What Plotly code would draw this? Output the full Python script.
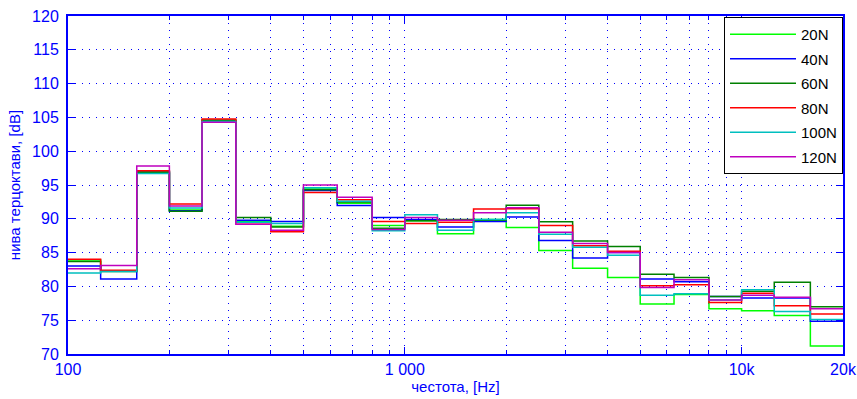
import plotly.graph_objects as go

# third-octave band edges (Hz)
band_edges = [100, 125, 160, 200, 250, 315, 400, 500, 630, 800, 1000, 1250, 1600,
              2000, 2500, 3150, 4000, 5000, 6300, 8000, 10000, 12500, 16000, 20000]

series_names = ["20N", "40N", "60N", "80N", "100N", "120N"]

lvl_20N = [83.9, 82.3, 97.0, 91.3, 104.5, 89.6, 88.9, 94.4, 92.3, 89.0, 89.7, 87.8,
           89.9, 88.7, 85.3, 82.7, 81.3, 77.4, 78.8, 76.7, 76.4, 75.7, 71.2]
lvl_40N = [83.0, 81.1, 96.9, 91.2, 104.4, 89.8, 89.6, 94.2, 91.95, 90.2, 89.9, 88.8,
           89.6, 90.25, 86.8, 84.2, 85.0, 81.1, 80.7, 78.5, 78.3, 78.3, 74.85]
lvl_60N = [83.7, 82.2, 96.9, 91.1, 104.6, 90.2, 88.8, 94.3, 92.5, 88.6, 89.7, 89.9,
           89.8, 92.0, 89.55, 86.7, 85.9, 81.8, 81.3, 78.5, 79.3, 80.6, 77.0]
lvl_80N = [84.0, 82.4, 97.1, 92.2, 104.75, 89.4, 88.1, 93.9, 92.8, 89.6, 89.3, 89.5,
           91.45, 91.5, 89.0, 86.0, 85.2, 80.1, 80.25, 77.6, 79.0, 77.15, 75.9]
lvl_100N = [82.0, 82.2, 96.7, 91.6, 104.4, 89.5, 89.3, 94.6, 92.6, 88.25, 90.6, 88.3,
            89.9, 90.9, 87.7, 85.8, 84.6, 78.7, 78.9, 78.0, 79.5, 76.3, 75.1]
lvl_120N = [82.6, 83.1, 97.8, 91.9, 104.3, 89.2, 88.3, 95.0, 93.2, 88.4, 90.2, 89.8,
            90.9, 91.65, 88.0, 86.35, 85.0, 79.85, 81.0, 78.0, 78.7, 78.4, 76.7]

all_levels = [lvl_20N, lvl_40N, lvl_60N, lvl_80N, lvl_100N, lvl_120N]
colors = ["#00ff00", "#0000ff", "#008000", "#ff0000", "#00bfbf", "#bf00bf"]

x_major = [100, 1000, 10000, 20000]
x_major_text = ["100", "1 000", "10k", "20k"]
x_minor = [200, 300, 400, 500, 600, 700, 800, 900,
           2000, 3000, 4000, 5000, 6000, 7000, 8000, 9000]

BLUE = "#0000ff"
FONT = "Liberation Sans, Arial, sans-serif"

fig = go.Figure()
for name, lv, col in zip(series_names, all_levels, colors):
    fig.add_trace(go.Scatter(
        x=band_edges, y=lv + [lv[-1]], mode="lines", name=name,
        line=dict(color=col, width=1.5, shape="hv"),
        legendgroup=name,
    ))

fig.update_layout(
    width=857, height=399,
    margin=dict(l=68, r=14, t=16, b=45),
    paper_bgcolor="white", plot_bgcolor="white",
    font=dict(family=FONT, size=16, color=BLUE),
    showlegend=True,
    legend=dict(
        x=1, y=0.997, xanchor="right", yanchor="top",
        bgcolor="white", bordercolor="black", borderwidth=1,
        font=dict(family=FONT, size=15, color="black"),
        tracegroupgap=2, traceorder="grouped",
        itemwidth=66,
    ),
)

fig.update_xaxes(
    type="log", range=[2, 4.30103], automargin=False,
    tickmode="array", tickvals=x_major, ticktext=x_major_text,
    ticks="inside", ticklen=7, tickcolor=BLUE, tickwidth=1,
    showline=True, linecolor=BLUE, linewidth=2, mirror="ticks",
    showgrid=True, gridcolor=BLUE, gridwidth=1, griddash="1px,6px",
    minor=dict(tickvals=x_minor, ticks="inside", ticklen=4, tickcolor=BLUE,
               showgrid=True, gridcolor=BLUE, gridwidth=1, griddash="1px,6px"),
    tickfont=dict(size=16, color=BLUE),
    title=dict(text="честота, [Hz]", font=dict(size=15, color=BLUE), standoff=4),
    zeroline=False,
)
fig.update_yaxes(
    range=[70, 120], dtick=5, tick0=70, automargin=False,
    ticks="inside", ticklen=7, tickcolor=BLUE, tickwidth=1,
    ticklabelstandoff=4,
    showline=True, linecolor=BLUE, linewidth=2, mirror="ticks",
    showgrid=True, gridcolor=BLUE, gridwidth=1, griddash="1px,6px",
    tickfont=dict(size=16, color=BLUE),
    title=dict(text="нива терцоктави, [dB]", font=dict(size=15, color=BLUE), standoff=8),
    zeroline=False,
)

fig.write_html("out.html",
               config={"displayModeBar": False},
               post_script="document.body.style.margin='0';document.body.style.padding='0';")
